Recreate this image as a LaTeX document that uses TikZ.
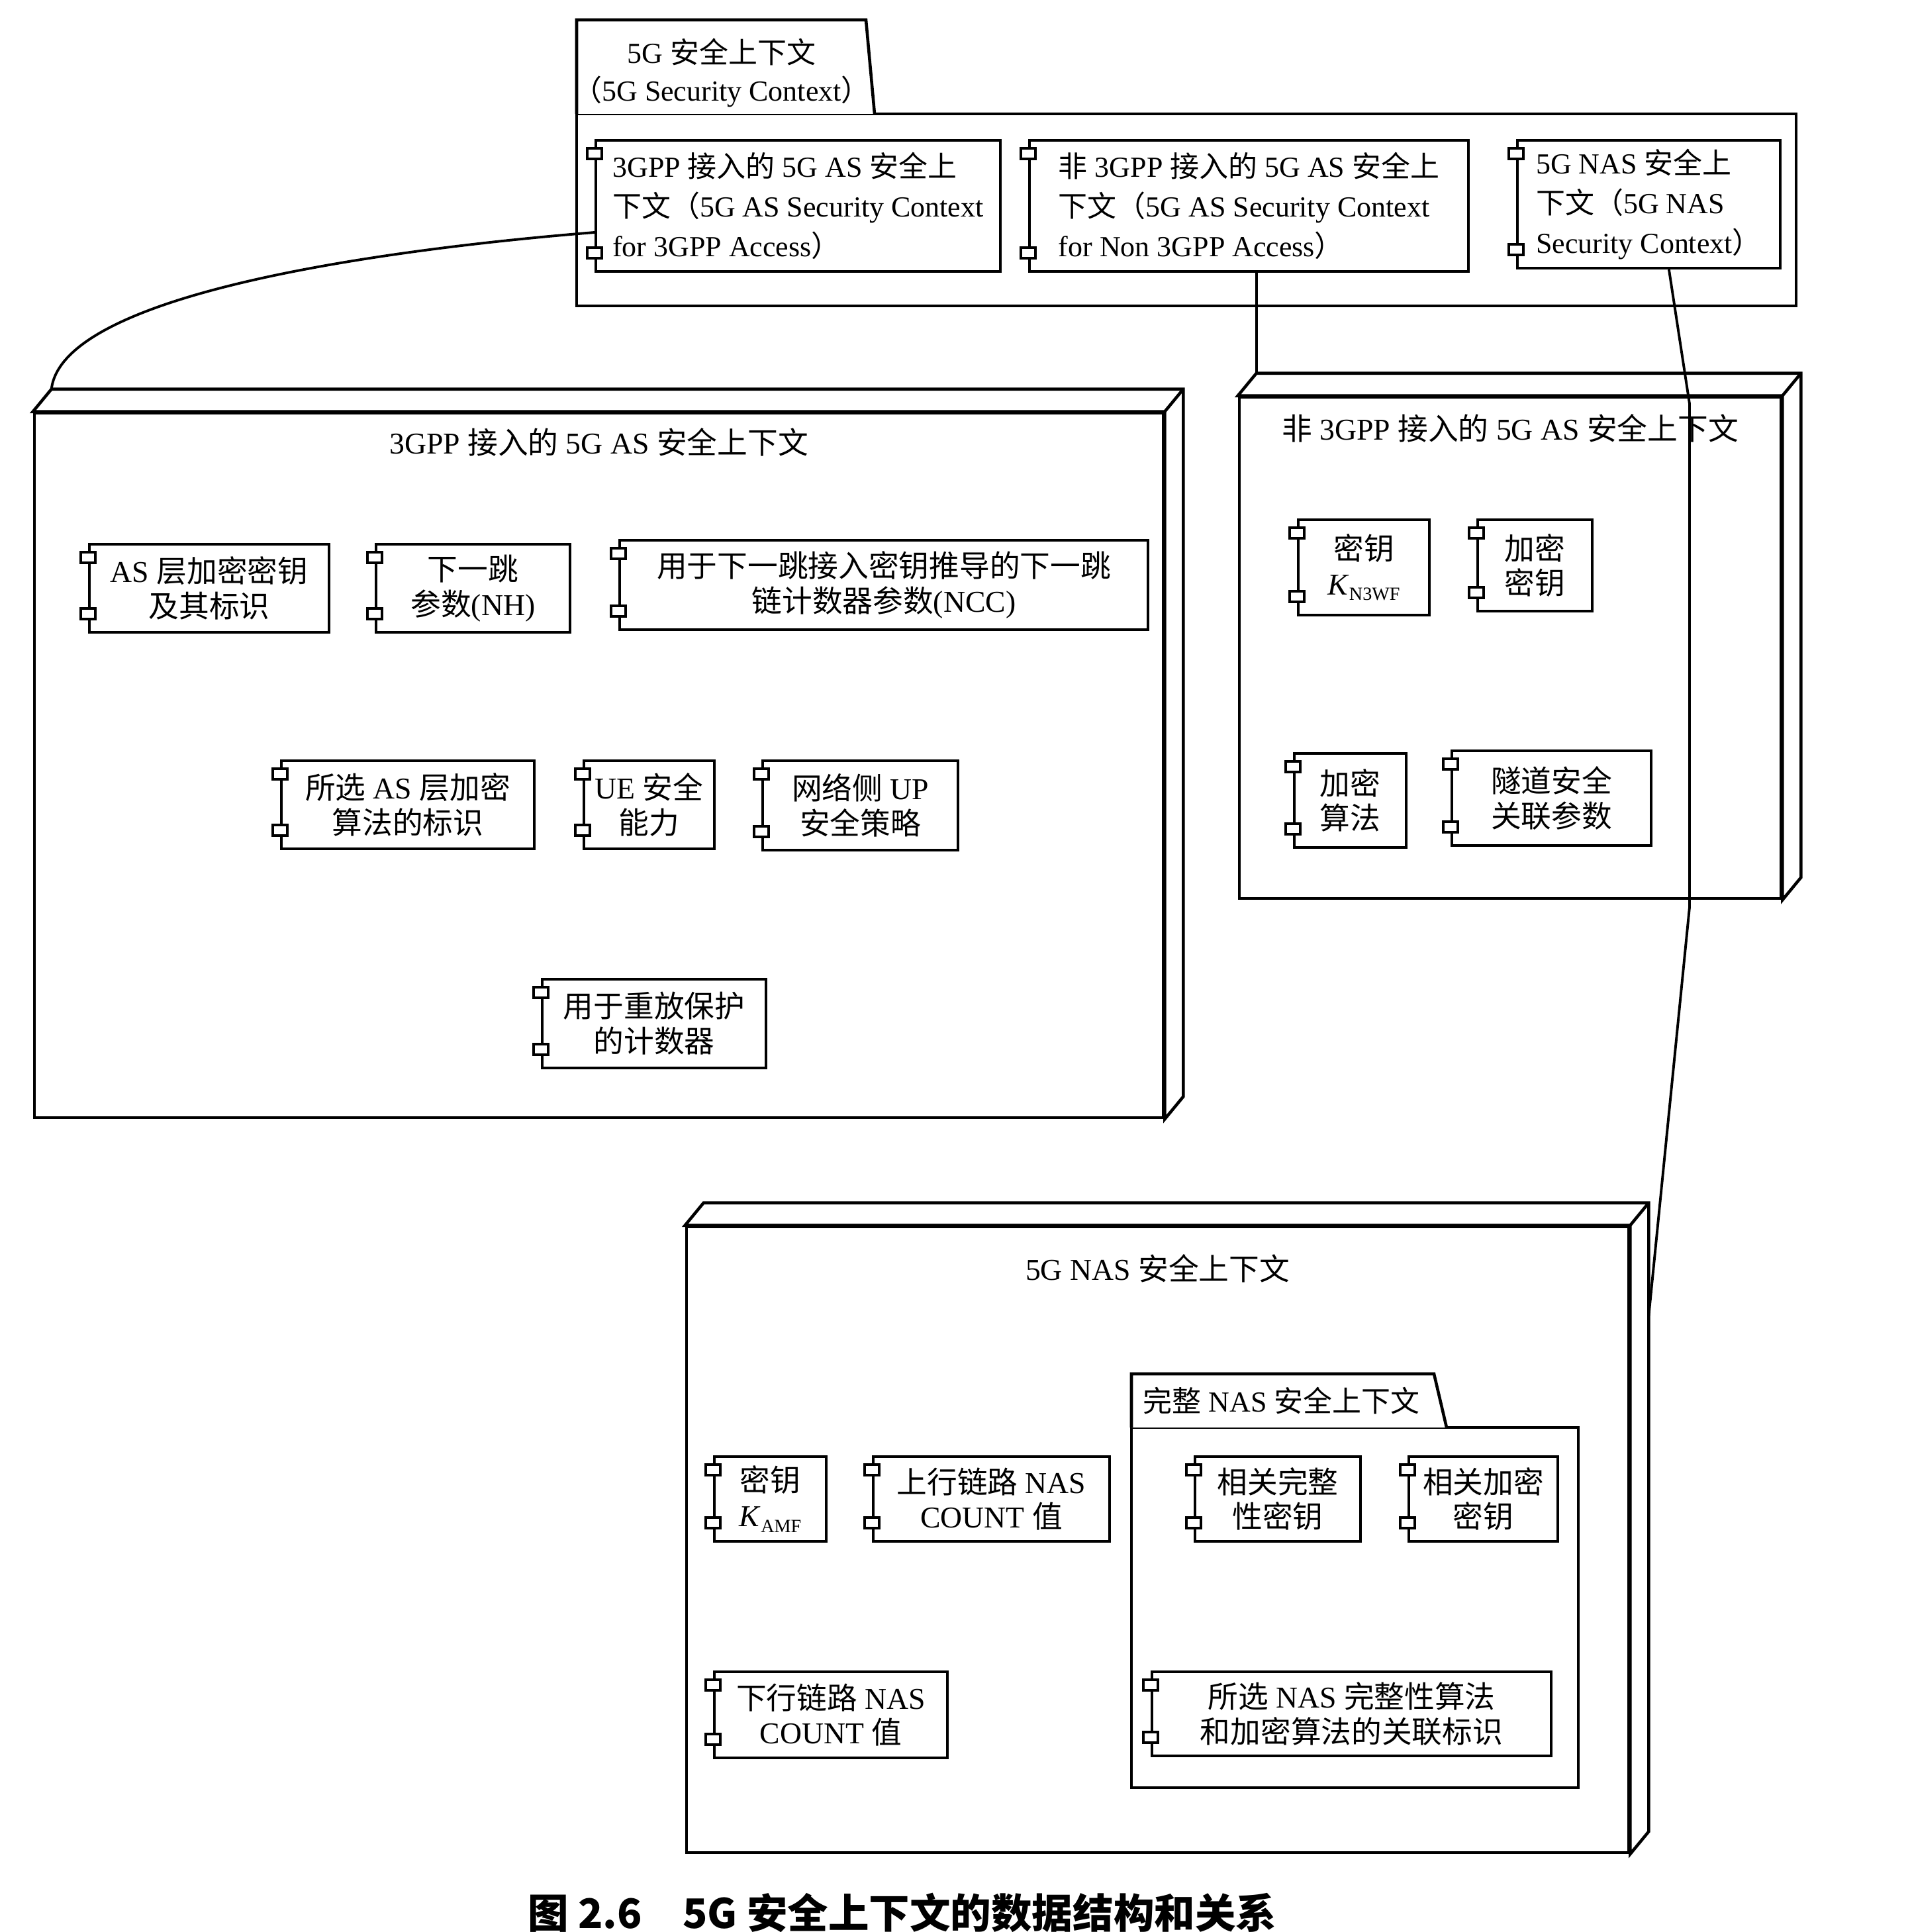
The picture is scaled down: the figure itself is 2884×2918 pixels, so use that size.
\documentclass[tikz,border=0pt]{standalone}
\usepackage{fontspec}
\setmainfont{Liberation Serif}
\newfontfamily\zhfont{Noto Sans CJK SC}
\newfontfamily\capfont{Noto Sans CJK SC}
\usetikzlibrary{calc}
\newcommand\zh[1]{{\zhfont #1}}
\newcommand\lowsub[1]{\raisebox{-0.4ex}{\fontsize{8}{8}\selectfont #1}}
\newcommand\boxnode[7]{\node[#1, minimum width={(#5-#3)*0.01cm}, minimum height={(#6-#4)*0.01cm}] (#2) at ({(#3+#5)/2},{(#4+#6)/2}) {#7};}
\newcommand\ports[1]{%
  \draw[port] ($(#1.north west)+(-11,14)$) rectangle ++(22,16);
  \draw[port] ($(#1.south west)+(-11,-38)$) rectangle ++(22,16);}
\newcommand\compbox[7]{\boxnode{#1}{#2}{#3}{#4}{#5}{#6}{#7}\ports{#2}}
\newcommand\threed[5]{%
  \boxnode{face}{#1}{#2}{#3}{#4}{#5}{}
  \draw[face] (#1.north west) -- ++(28,-34) -- ($(#1.north east)+(28,-34)$) -- ($(#1.south east)+(28,-34)$) -- (#1.south east) -- (#1.north east) -- cycle;
  \draw[face] (#1.north east) -- ++(28,-34);}
\begin{document}
\begin{tikzpicture}[x=0.01cm,y=-0.01cm,
  face/.style={draw, line width=1.3pt, fill=white, inner sep=0pt},
  comp/.style={draw, line width=1.2pt, fill=white, inner sep=0pt, align=center, font=\fontsize{13}{15}\selectfont},
  compL/.style={comp, align=left, font=\fontsize{12.5}{17}\selectfont},
  port/.style={draw, line width=1pt, fill=white},
  conn/.style={draw, line width=1.1pt},
  ttl/.style={inner sep=0pt, align=center, font=\fontsize{13}{15}\selectfont}]
\useasboundingbox (0,0) rectangle (2884,2918);

% ---------- top package ----------
\boxnode{face}{pkg}{871}{172}{2713}{462}{}
\draw[face] (871,172) -- (871,30) -- (1308,30) -- (1321,172);
\node[ttl, font=\fontsize{12.5}{16}\selectfont] (pkgt) at (1090,110) {5G \zh{安全上下文}\\\zh{（}5G Security Context\zh{）}};
\compbox{compL}{c1}{900}{212}{1511}{410}{3GPP \zh{接入的} 5G AS \zh{安全上}\\\zh{下文（}5G AS Security Context\\for 3GPP Access\zh{）}}
\compbox{compL}{c2}{1555}{212}{2218}{410}{\zh{非} 3GPP \zh{接入的} 5G AS \zh{安全上}\\\zh{下文（}5G AS Security Context\\for Non 3GPP Access\zh{）}}
\compbox{compL}{c3}{2292}{212}{2689}{405}{5G NAS \zh{安全上}\\\zh{下文（}5G NAS\\Security Context\zh{）}}

% ---------- left 3D node ----------
\threed{ln}{52}{624}{1757}{1688}
\node[ttl] (lt) at ($(ln.north)+(0,46)$) {3GPP \zh{接入的} 5G AS \zh{安全上下文}};
\compbox{comp}{a1}{135}{822}{497}{955}{AS \zh{层加密密钥}\\\zh{及其标识}}
\compbox{comp}{a2}{568}{822}{861}{955}{\zh{下一跳}\\\zh{参数}(NH)}
\compbox{comp}{a3}{936}{816}{1734}{951}{\zh{用于下一跳接入密钥推导的下一跳}\\\zh{链计数器参数}(NCC)}
\compbox{comp}{a4}{425}{1149}{807}{1282}{\zh{所选} AS \zh{层加密}\\\zh{算法的标识}}
\compbox{comp}{a5}{882}{1149}{1079}{1282}{UE \zh{安全}\\\zh{能力}}
\compbox{comp}{a6}{1152}{1149}{1447}{1284}{\zh{网络侧} UP\\\zh{安全策略}}
\compbox{comp}{a7}{819}{1479}{1157}{1613}{\zh{用于重放保护}\\\zh{的计数器}}

% ---------- right 3D node ----------
\threed{rn}{1872}{600}{2690}{1357}
\node[ttl] (rt) at ($(rn.north)+(0,49)$) {\zh{非} 3GPP \zh{接入的} 5G AS \zh{安全上下文}};
\compbox{comp}{b1}{1961}{785}{2159}{929}{\zh{密钥}\\\textit{K}\lowsub{N3WF}}
\compbox{comp}{b2}{2232}{785}{2405}{923}{\zh{加密}\\\zh{密钥}}
\compbox{comp}{b3}{1955}{1138}{2124}{1280}{\zh{加密}\\\zh{算法}}
\compbox{comp}{b4}{2193}{1134}{2494}{1277}{\zh{隧道安全}\\\zh{关联参数}}

% ---------- bottom 3D node ----------
\threed{bn}{1037}{1853}{2460}{2798}
\node[ttl] (bt) at ($(bn.north)+(0,65)$) {5G NAS \zh{安全上下文}};
\compbox{comp}{d1}{1079}{2200}{1248}{2328}{\zh{密钥}\\\textit{K}\lowsub{AMF}}
\compbox{comp}{d2}{1319}{2200}{1676}{2328}{\zh{上行链路} NAS\\COUNT \zh{值}}
\compbox{comp}{d3}{1079}{2525}{1431}{2655}{\zh{下行链路} NAS\\COUNT \zh{值}}
\boxnode{face}{ip}{1709}{2156}{2384}{2700}{}
\draw[face] (1709,2156) -- (1709,2075) -- (2166,2075) -- (2185,2156);
\node[ttl, anchor=west, font=\fontsize{12.5}{15}\selectfont] (ipt) at (1726,2116) {\zh{完整} NAS \zh{安全上下文}};
\compbox{comp}{d4}{1805}{2200}{2055}{2328}{\zh{相关完整}\\\zh{性密钥}}
\compbox{comp}{d5}{2128}{2200}{2353}{2328}{\zh{相关加密}\\\zh{密钥}}
\compbox{comp}{d6}{1740}{2525}{2343}{2652}{\zh{所选} NAS \zh{完整性算法}\\\zh{和加密算法的关联标识}}

% ---------- connectors ----------
\coordinate (lnc) at ($(ln.north west)+(28,-34)$);
\coordinate (rnc) at ($(rn.north west)+(28,-34)$);
\coordinate (bnc) at ($(bn.north east)+(28,137)$);
\draw[conn] ($(c1.west)+(0,40)$) .. controls (600,375) and (95,440) .. (lnc);
\draw[conn] (c2.south -| rnc) -- (rnc);
\draw[conn] ($(c3.south west)+(231,0)$) -- (2552,610) -- (2552,1370) -- (bnc);

% ---------- caption ----------
\node[inner sep=0pt, font={\capfont\fontsize{17.5}{20}\selectfont\bfseries}] (cap) at (1363,2889) {图 2.6\quad 5G 安全上下文的数据结构和关系};
\end{tikzpicture}
\end{document}
